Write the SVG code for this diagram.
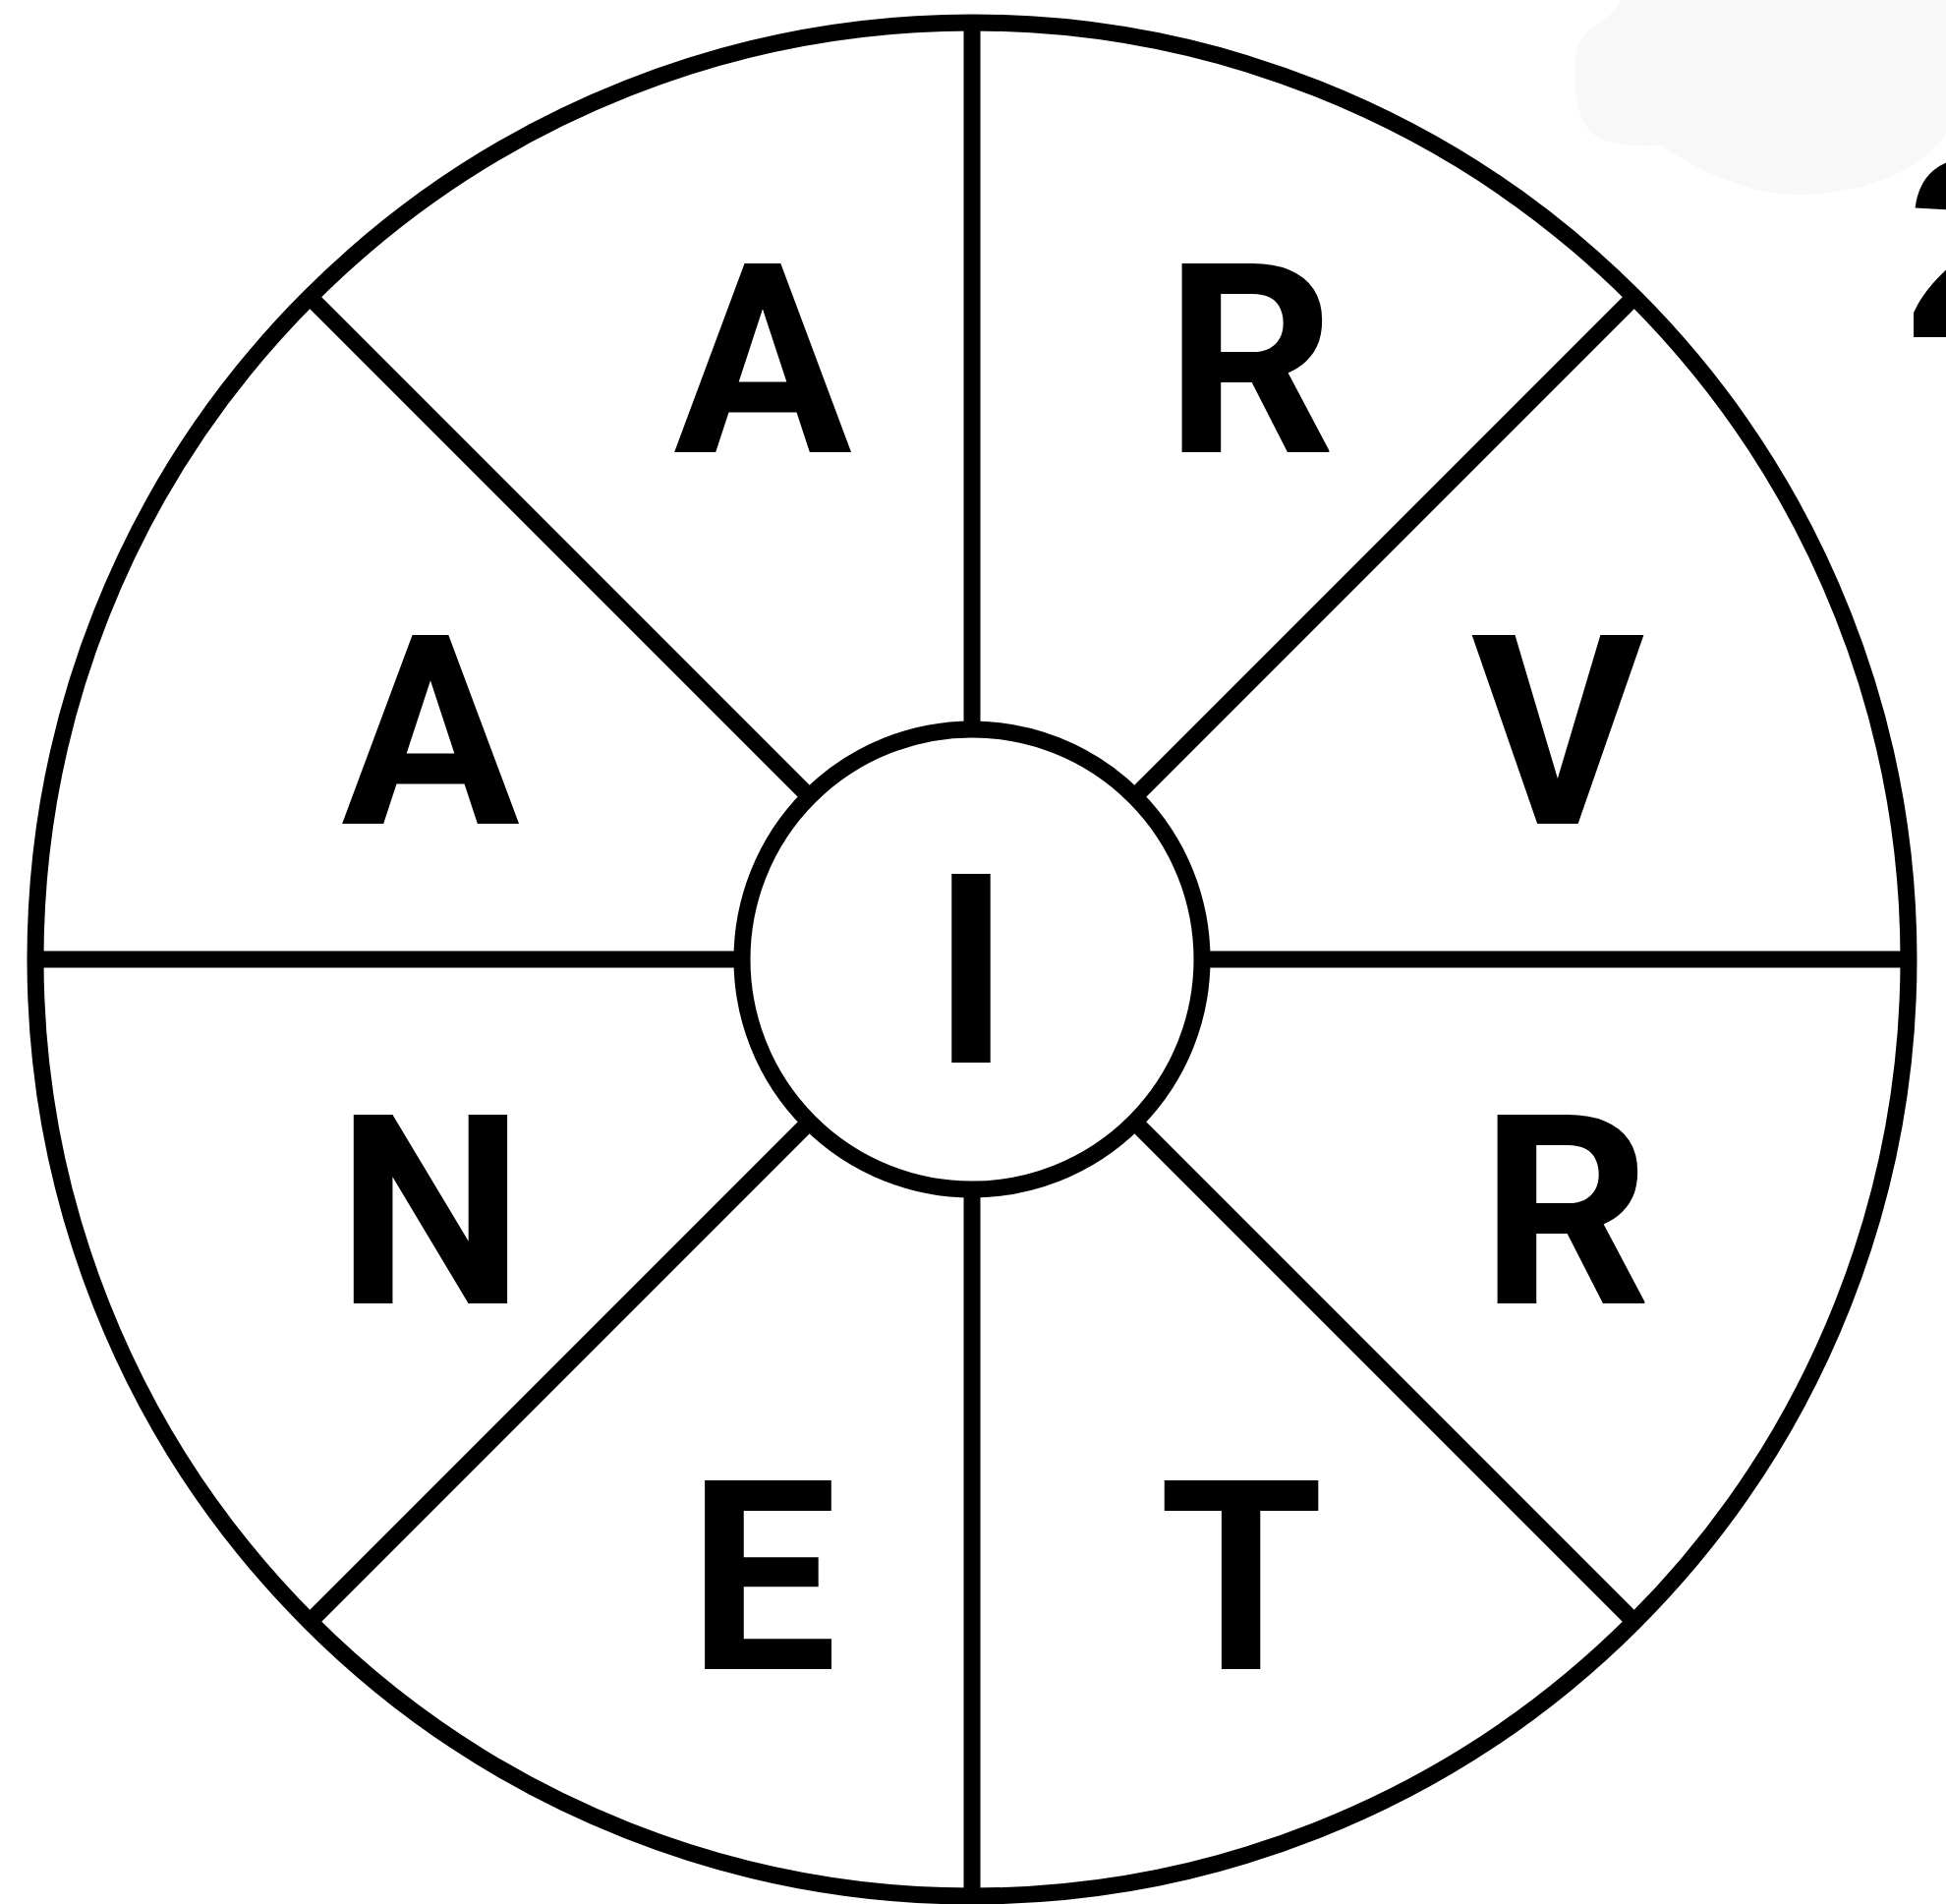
<svg xmlns="http://www.w3.org/2000/svg" width="1980" height="1937" viewBox="0 0 1980 1937">
<style>
.ln{stroke:#000;stroke-width:17;fill:none}
.ring{stroke:#000;stroke-width:17;fill:#fff}
.lt{font-family:Roboto,"Liberation Sans",Arial,sans-serif;font-weight:700;font-size:270px;fill:#000;text-anchor:middle}
.dg{font-family:"Liberation Sans",Arial,sans-serif;font-weight:700;font-size:262px;fill:#000}
</style>
<rect width="1980" height="1937" fill="#fff"/>
<path d="M1650,0 C1640,20 1618,25 1608,42 C1598,60 1600,110 1615,130 C1625,145 1650,150 1690,148 C1730,175 1780,198 1830,198 C1900,198 1960,170 1980,135 L1980,0 Z" fill="#f8f8f8"/>
<text x="1938" y="343" class="dg">2</text>
<g id="outer"><circle cx="989" cy="976" r="953" class="ring"/></g>
<g id="connectors">
<line class="ln" x1="989" y1="23" x2="989" y2="742"/>
<line class="ln" x1="989" y1="1210" x2="989" y2="1929"/>
<line class="ln" x1="36" y1="976" x2="755" y2="976"/>
<line class="ln" x1="1223" y1="976" x2="1942" y2="976"/>
<line class="ln" x1="315" y1="302" x2="823.5" y2="810.5"/>
<line class="ln" x1="1663" y1="302" x2="1154.5" y2="810.5"/>
<line class="ln" x1="315" y1="1650" x2="823.5" y2="1141.5"/>
<line class="ln" x1="1663" y1="1650" x2="1154.5" y2="1141.5"/>
</g>
<g id="center"><circle cx="989" cy="976" r="234" class="ring"/><text x="988" y="1081" class="lt">I</text></g>
<g id="s-top-left"><text x="776" y="460" class="lt">A</text></g>
<g id="s-top-right"><text x="1272" y="460" class="lt">R</text></g>
<g id="s-left-top"><text x="438" y="838" class="lt">A</text></g>
<g id="s-right-top"><text x="1585" y="838" class="lt">V</text></g>
<g id="s-left-bottom"><text x="438" y="1326" class="lt">N</text></g>
<g id="s-right-bottom"><text x="1593" y="1326" class="lt">R</text></g>
<g id="s-bottom-left"><text x="776" y="1698" class="lt">E</text></g>
<g id="s-bottom-right"><text x="1263" y="1698" class="lt">T</text></g>
</svg>
